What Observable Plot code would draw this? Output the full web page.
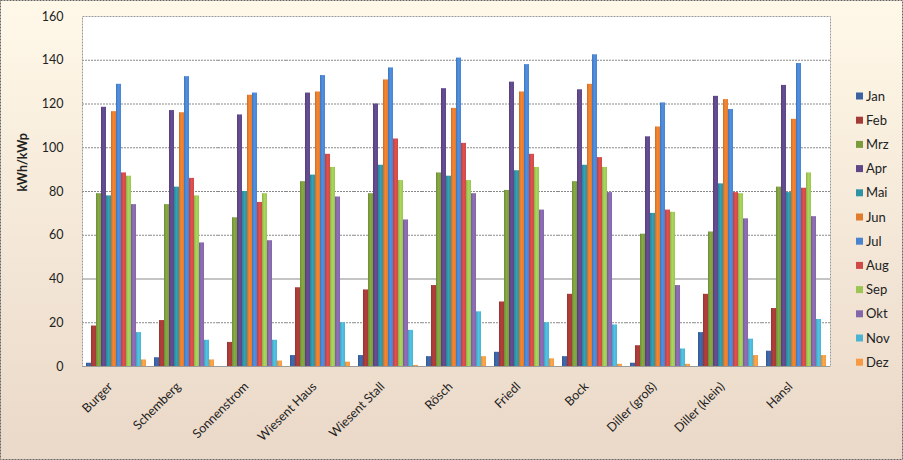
<!DOCTYPE html>
<html><head><meta charset="utf-8">
<script src="https://cdn.jsdelivr.net/npm/d3@7"></script>
<script src="https://cdn.jsdelivr.net/npm/@observablehq/plot@0.6"></script>
<style>
body{margin:0;background:#fff;}
#chart{width:903px;height:460px;}
</style></head><body><div id="chart"></div>
<script>
const sites = ["Burger","Schemberg","Sonnenstrom","Wiesent Haus","Wiesent Stall","Rösch","Friedl","Bock","Diller (groß)","Diller (klein)","Hansl"];
const months = ["Jan","Feb","Mrz","Apr","Mai","Jun","Jul","Aug","Sep","Okt","Nov","Dez"];
const colors = ["#3A62A2","#A53A37","#7C9C3C","#5E4788","#2F93A6","#E27B2C","#4A84CF","#CF4A47","#9CC553","#8466AA","#4CB3D2","#F79A42"];
const yTicks = [0,20,40,60,80,100,120,140,160];

// values per month, in the order of `sites`
const jan = [1.5, 4, 0, 5, 5, 4.5, 6.5, 4.5, 1.5, 15.5, 7];
const feb = [18.5, 21, 11, 36, 35, 37, 29.5, 33, 9.5, 33, 26.5];
const mrz = [79, 74, 68, 84.5, 79, 88.5, 80.5, 84.5, 60.5, 61.5, 82];
const apr = [118.5, 117, 115, 125, 120, 127, 130, 126.5, 105, 123.5, 128.5];
const mai = [78, 82, 80, 87.5, 92, 87, 89.5, 92, 70, 83.5, 79.5];
const jun = [116.5, 116, 124, 125.5, 131, 118, 125.5, 129, 109.5, 122, 113];
const jul = [129, 132.5, 125, 133, 136.5, 141, 138, 142.5, 120.5, 117.5, 138.5];
const aug = [88.5, 86, 75, 97, 104, 102, 97, 95.5, 71.5, 79.5, 81.5];
const sep = [87, 78, 79, 91, 85, 85, 91, 91, 70.5, 79, 88.5];
const okt = [74, 56.5, 57.5, 77.5, 67, 79, 71.5, 79.5, 37, 67.5, 68.5];
const nov = [15.5, 12, 12, 20, 16.5, 25, 20, 19, 8, 12.5, 21.5];
const dez = [3, 3, 2.5, 2, 0.5, 4.5, 3.5, 1, 1, 5, 5];

const series = [jan,feb,mrz,apr,mai,jun,jul,aug,sep,okt,nov,dez];
const rows = [];
sites.forEach((s, i) => months.forEach((m, j) => rows.push({site: s, month: m, value: series[j][i]})));

const chart = Plot.plot({
  width: 903, height: 460,
  marginLeft: 77, marginRight: 68, marginTop: 16, marginBottom: 94,
  style: {background: "linear-gradient(#FFF8E8, #EAD8C8)", fontFamily: "Lato, 'Open Sans', sans-serif", fontSize: "12.5px", color: "#222", overflow: "visible"},
  fx: {domain: sites, padding: 0, label: null, axis: null},
  x: {domain: months, paddingInner: 0, paddingOuter: 0.667, axis: null},
  y: {domain: [0, 160], ticks: yTicks, label: null, tickSize: 0, tickPadding: 19},
  color: {domain: months, range: colors},
  marks: [
    Plot.frame({facet: "super", fill: "white"}),
    Plot.ruleY(yTicks.filter(v => v !== 0 && v !== 40 && v !== 160), {stroke: "#8a8a8a", strokeDasharray: "2,1"}),
    Plot.ruleY([40], {stroke: "#c4c4c4", strokeWidth: 2}),
    Plot.barY(rows, {fx: "site", x: "month", y: "value", fill: "month"}),
    Plot.ruleY([0], {stroke: "#9a9a9a"}),
    Plot.frame({facet: "super", stroke: "#9a9a9a", strokeDasharray: "2,1"}),
    Plot.axisFx({anchor: "bottom", tickRotate: -45, tickSize: 0, tickPadding: 18, dx: -6, label: null, fontSize: 12.5}),
    Plot.text(["kWh/kWp"], {facet: "super", frameAnchor: "left", dx: -60, rotate: -90, fontWeight: "bold", fontSize: 12.5})
  ]
});

const svg = d3.select(chart);
// subtle horizontal shading on bars
const defs = svg.append("defs");
const col = chart.scale("color");
col.range.forEach((c, i) => {
  const g = defs.append("linearGradient").attr("id", "bg" + i).attr("x1", 0).attr("x2", 1).attr("y1", 0).attr("y2", 0);
  g.append("stop").attr("offset", "0%").attr("stop-color", d3.color(c).darker(0.35));
  g.append("stop").attr("offset", "45%").attr("stop-color", d3.color(c).brighter(0.25));
  g.append("stop").attr("offset", "100%").attr("stop-color", c);
});
svg.selectAll("g[aria-label='bar'] rect").each(function() {
  const f = d3.color(this.getAttribute("fill"));
  if (!f) return;
  const i = col.range.findIndex(c => d3.color(c).formatHex() === f.formatHex());
  if (i >= 0) this.setAttribute("fill", `url(#bg${i})`);
});

// legend
const lg = svg.append("g").attr("font-family", "Lato, 'Open Sans', sans-serif").attr("font-size", "13px").attr("text-anchor", "start");
col.domain.forEach((m, i) => {
  const y = 96 + i * 24.2;
  lg.append("rect").attr("x", 856).attr("y", y - 3.5).attr("width", 7).attr("height", 7).attr("fill", col.range[i]);
  lg.append("text").attr("x", 866).attr("y", y).attr("dy", "0.35em").attr("fill", "#222").text(m);
});
// outer border
svg.append("rect").attr("x", 0.5).attr("y", 0.5).attr("width", 902).attr("height", 459)
  .attr("fill", "none").attr("stroke", "#666").attr("stroke-dasharray", "2,1");

document.getElementById("chart").append(chart);
</script></body></html>
